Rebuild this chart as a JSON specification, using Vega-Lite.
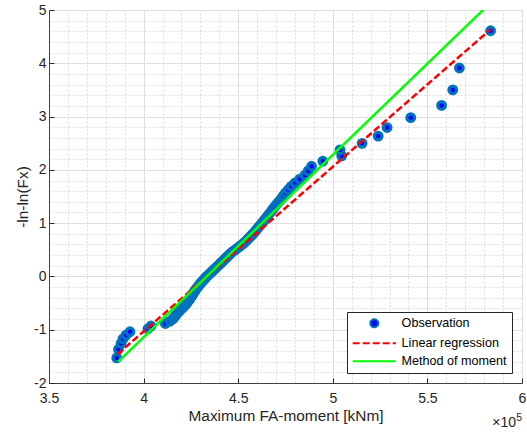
{
  "$schema": "https://vega.github.io/schema/vega-lite/v6.json",
  "width": 473,
  "height": 373,
  "autosize": {"type": "none"},
  "padding": {"left": 49, "top": 10, "right": 5, "bottom": 54},
  "background": "white",
  "config": {
    "view": {"stroke": null},
    "font": "Liberation Sans",
    "axis": {"labelFont": "Liberation Sans", "titleFont": "Liberation Sans", "titleFontWeight": "normal", "labelColor": "#262626", "titleColor": "#262626", "domainColor": "#404040", "tickColor": "#262626"}
  },
  "datasets": {
    "obs": [
      {"series": "Observation", "m": 3.858, "y": -1.529},
      {"series": "Observation", "m": 3.867, "y": -1.367},
      {"series": "Observation", "m": 3.881, "y": -1.257},
      {"series": "Observation", "m": 3.891, "y": -1.172},
      {"series": "Observation", "m": 3.907, "y": -1.101},
      {"series": "Observation", "m": 3.928, "y": -1.038},
      {"series": "Observation", "m": 4.023, "y": -0.982},
      {"series": "Observation", "m": 4.039, "y": -0.930},
      {"series": "Observation", "m": 4.115, "y": -0.883},
      {"series": "Observation", "m": 4.140, "y": -0.838},
      {"series": "Observation", "m": 4.155, "y": -0.796},
      {"series": "Observation", "m": 4.165, "y": -0.756},
      {"series": "Observation", "m": 4.172, "y": -0.718},
      {"series": "Observation", "m": 4.180, "y": -0.681},
      {"series": "Observation", "m": 4.190, "y": -0.646},
      {"series": "Observation", "m": 4.200, "y": -0.611},
      {"series": "Observation", "m": 4.210, "y": -0.578},
      {"series": "Observation", "m": 4.218, "y": -0.545},
      {"series": "Observation", "m": 4.226, "y": -0.513},
      {"series": "Observation", "m": 4.232, "y": -0.482},
      {"series": "Observation", "m": 4.238, "y": -0.451},
      {"series": "Observation", "m": 4.244, "y": -0.421},
      {"series": "Observation", "m": 4.250, "y": -0.392},
      {"series": "Observation", "m": 4.255, "y": -0.363},
      {"series": "Observation", "m": 4.260, "y": -0.334},
      {"series": "Observation", "m": 4.265, "y": -0.305},
      {"series": "Observation", "m": 4.270, "y": -0.277},
      {"series": "Observation", "m": 4.275, "y": -0.249},
      {"series": "Observation", "m": 4.281, "y": -0.221},
      {"series": "Observation", "m": 4.287, "y": -0.194},
      {"series": "Observation", "m": 4.293, "y": -0.166},
      {"series": "Observation", "m": 4.299, "y": -0.139},
      {"series": "Observation", "m": 4.305, "y": -0.112},
      {"series": "Observation", "m": 4.312, "y": -0.085},
      {"series": "Observation", "m": 4.319, "y": -0.058},
      {"series": "Observation", "m": 4.326, "y": -0.031},
      {"series": "Observation", "m": 4.333, "y": -0.004},
      {"series": "Observation", "m": 4.341, "y": 0.023},
      {"series": "Observation", "m": 4.349, "y": 0.050},
      {"series": "Observation", "m": 4.357, "y": 0.077},
      {"series": "Observation", "m": 4.365, "y": 0.104},
      {"series": "Observation", "m": 4.373, "y": 0.131},
      {"series": "Observation", "m": 4.381, "y": 0.158},
      {"series": "Observation", "m": 4.389, "y": 0.186},
      {"series": "Observation", "m": 4.397, "y": 0.213},
      {"series": "Observation", "m": 4.405, "y": 0.240},
      {"series": "Observation", "m": 4.413, "y": 0.268},
      {"series": "Observation", "m": 4.421, "y": 0.296},
      {"series": "Observation", "m": 4.429, "y": 0.324},
      {"series": "Observation", "m": 4.437, "y": 0.352},
      {"series": "Observation", "m": 4.445, "y": 0.381},
      {"series": "Observation", "m": 4.453, "y": 0.410},
      {"series": "Observation", "m": 4.462, "y": 0.439},
      {"series": "Observation", "m": 4.471, "y": 0.468},
      {"series": "Observation", "m": 4.484, "y": 0.498},
      {"series": "Observation", "m": 4.495, "y": 0.528},
      {"series": "Observation", "m": 4.506, "y": 0.558},
      {"series": "Observation", "m": 4.517, "y": 0.589},
      {"series": "Observation", "m": 4.528, "y": 0.620},
      {"series": "Observation", "m": 4.538, "y": 0.652},
      {"series": "Observation", "m": 4.547, "y": 0.685},
      {"series": "Observation", "m": 4.556, "y": 0.718},
      {"series": "Observation", "m": 4.565, "y": 0.751},
      {"series": "Observation", "m": 4.574, "y": 0.785},
      {"series": "Observation", "m": 4.583, "y": 0.820},
      {"series": "Observation", "m": 4.592, "y": 0.855},
      {"series": "Observation", "m": 4.600, "y": 0.891},
      {"series": "Observation", "m": 4.608, "y": 0.927},
      {"series": "Observation", "m": 4.617, "y": 0.965},
      {"series": "Observation", "m": 4.626, "y": 1.003},
      {"series": "Observation", "m": 4.635, "y": 1.042},
      {"series": "Observation", "m": 4.644, "y": 1.082},
      {"series": "Observation", "m": 4.653, "y": 1.123},
      {"series": "Observation", "m": 4.662, "y": 1.166},
      {"series": "Observation", "m": 4.672, "y": 1.210},
      {"series": "Observation", "m": 4.682, "y": 1.257},
      {"series": "Observation", "m": 4.692, "y": 1.305},
      {"series": "Observation", "m": 4.703, "y": 1.354},
      {"series": "Observation", "m": 4.715, "y": 1.404},
      {"series": "Observation", "m": 4.727, "y": 1.456},
      {"series": "Observation", "m": 4.738, "y": 1.511},
      {"series": "Observation", "m": 4.750, "y": 1.568},
      {"series": "Observation", "m": 4.765, "y": 1.628},
      {"series": "Observation", "m": 4.780, "y": 1.691},
      {"series": "Observation", "m": 4.800, "y": 1.756},
      {"series": "Observation", "m": 4.825, "y": 1.826},
      {"series": "Observation", "m": 4.853, "y": 1.901},
      {"series": "Observation", "m": 4.870, "y": 1.980},
      {"series": "Observation", "m": 4.888, "y": 2.068},
      {"series": "Observation", "m": 4.947, "y": 2.161},
      {"series": "Observation", "m": 5.047, "y": 2.263},
      {"series": "Observation", "m": 5.038, "y": 2.374},
      {"series": "Observation", "m": 5.155, "y": 2.497},
      {"series": "Observation", "m": 5.240, "y": 2.633},
      {"series": "Observation", "m": 5.287, "y": 2.794},
      {"series": "Observation", "m": 5.412, "y": 2.980},
      {"series": "Observation", "m": 5.575, "y": 3.209},
      {"series": "Observation", "m": 5.634, "y": 3.501},
      {"series": "Observation", "m": 5.669, "y": 3.911},
      {"series": "Observation", "m": 5.834, "y": 4.610}
    ],
    "fit": [
      {"series": "Linear regression", "m": 3.862, "y": -1.46},
      {"series": "Linear regression", "m": 5.834, "y": 4.636},
      {"series": "Method of moment", "m": 3.866, "y": -1.6},
      {"series": "Method of moment", "m": 5.834, "y": 5.136}
    ],
    "exp": [{"m": 6, "y": -2}]
  },
  "layer": [
    {
      "data": {"name": "obs"},
      "mark": {"type": "point", "filled": true, "strokeWidth": 3.2, "size": 58, "opacity": 1},
      "encoding": {
        "x": {"field": "m", "type": "quantitative", "scale": {"domain": [3.5, 6], "nice": false, "zero": false},
          "axis": {"orient": "top", "values": [3.6,3.7,3.8,3.9,4.1,4.2,4.3,4.4,4.6,4.7,4.8,4.9,5.1,5.2,5.3,5.4,5.6,5.7,5.8,5.9], "grid": true, "gridDash": [2, 2], "gridColor": "#dcdcdc", "labels": false, "ticks": false, "domain": false, "title": null}},
        "y": {"field": "y", "type": "quantitative", "scale": {"domain": [-2, 5], "nice": false, "zero": false},
          "axis": {"orient": "right", "values": [-1.8,-1.6,-1.4,-1.2,-0.8,-0.6,-0.4,-0.2,0.2,0.4,0.6,0.8,1.2,1.4,1.6,1.8,2.2,2.4,2.6,2.8,3.2,3.4,3.6,3.8,4.2,4.4,4.6,4.8], "grid": true, "gridDash": [2, 2], "gridColor": "#dcdcdc", "labels": false, "ticks": false, "domain": false, "title": null}},
        "fill": {"field": "series", "type": "nominal",
          "scale": {"domain": ["Observation", "Linear regression", "Method of moment"], "range": ["#0000ff", "#ff0000", "#00ff00"]},
          "legend": {"title": null, "orient": "bottom-right", "offset": 10, "padding": 5, "strokeColor": "#262626", "fillColor": "white", "labelFont": "Liberation Sans", "labelFontSize": 12.6, "labelColor": "#000000", "symbolSize": 64, "symbolStrokeWidth": 2, "symbolOffset": 16, "labelOffset": 21, "rowPadding": 5}},
        "stroke": {"field": "series", "type": "nominal",
          "scale": {"domain": ["Observation", "Linear regression", "Method of moment"], "range": ["#0072bd", "#ff0000", "#00ff00"]}},
        "shape": {"field": "series", "type": "nominal",
          "scale": {"domain": ["Observation", "Linear regression", "Method of moment"], "range": ["circle", "M-5.4,0H5.4", "M-5.4,0H5.4"]}}
      }
    },
    {
      "data": {"name": "fit"},
      "mark": {"type": "line", "strokeWidth": 2.5, "clip": true},
      "encoding": {
        "x": {"field": "m", "type": "quantitative",
          "axis": {"orient": "bottom", "values": [3.5, 4, 4.5, 5, 5.5, 6], "labelExpr": "'' + datum.value", "grid": true, "gridColor": "#dedede", "tickSize": -5, "labelPadding": 13, "labelFontSize": 14, "labelFlush": false, "title": "Maximum FA-moment [kNm]", "titleFontSize": 15.4, "titlePadding": 3}},
        "y": {"field": "y", "type": "quantitative",
          "axis": {"orient": "left", "values": [-2, -1, 0, 1, 2, 3, 4, 5], "labelExpr": "'' + datum.value", "grid": true, "gridColor": "#dedede", "tickSize": -5, "labelPadding": 8, "labelFontSize": 14, "title": "-ln-ln(Fx)", "titleFontSize": 15.4, "titlePadding": 3}},
        "stroke": {"field": "series", "type": "nominal"},
        "strokeDash": {"field": "series", "type": "nominal",
          "scale": {"domain": ["Observation", "Linear regression", "Method of moment"], "range": [[1, 0], [7, 3], [1, 0]]}}
      }
    },
    {
      "data": {"name": "exp"},
      "mark": {"type": "text", "text": "×10", "align": "right", "baseline": "alphabetic", "dx": -6, "dy": 44, "fontSize": 14, "color": "#262626", "font": "Liberation Sans"},
      "encoding": {
        "x": {"field": "m", "type": "quantitative", "axis": null},
        "y": {"field": "y", "type": "quantitative", "axis": null}
      }
    },
    {
      "data": {"name": "exp"},
      "mark": {"type": "text", "text": "5", "align": "right", "baseline": "alphabetic", "dx": 0, "dy": 38, "fontSize": 10.5, "color": "#262626", "font": "Liberation Sans"},
      "encoding": {
        "x": {"field": "m", "type": "quantitative", "axis": null},
        "y": {"field": "y", "type": "quantitative", "axis": null}
      }
    }
  ]
}
